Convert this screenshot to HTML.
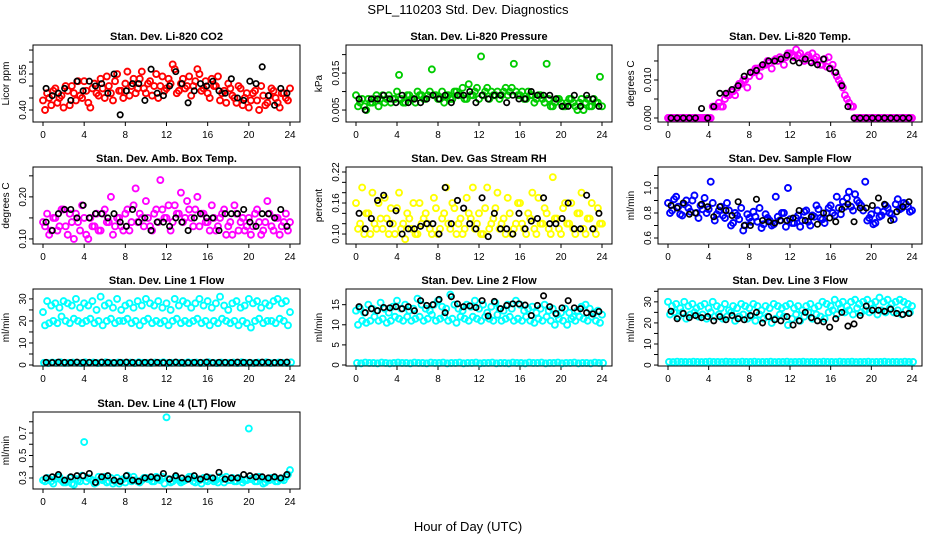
<!DOCTYPE html>
<html><head><meta charset="utf-8"><style>
html,body{margin:0;padding:0;background:#fff;}
svg{display:block;font-family:"Liberation Sans",Arial,sans-serif;}
</style></head><body>
<svg id="chart" width="936" height="540" viewBox="0 0 936 540" xmlns="http://www.w3.org/2000/svg">
<text x="468" y="14" text-anchor="middle" font-size="13">SPL_110203  Std. Dev. Diagnostics</text>
<text x="468" y="531" text-anchor="middle" font-size="13">Hour of Day (UTC)</text>
</svg>
<script>
// ---- data: colored series sampled every 0.4 h (A from 0 h, B from 0.2 h); black series every 0.6 h from 0.3 h
const co2A=[0.44,0.47,0.42,0.49,0.45,0.41,0.48,0.50,0.44,0.46,0.52,0.43,0.49,0.47,0.53,0.45,0.50,0.44,0.55,0.48,0.51,0.46,0.53,0.49,0.56,0.47,0.52,0.50,0.45,0.54,0.49,0.51,0.57,0.48,0.53,0.50,0.46,0.52,0.55,0.49,0.47,0.53,0.50,0.44,0.48,0.51,0.46,0.43,0.49,0.45,0.41,0.47,0.44,0.50,0.42,0.46,0.48,0.43,0.47,0.45,0.49];
const co2B=[0.40,0.45,0.48,0.43,0.46,0.50,0.42,0.47,0.52,0.45,0.48,0.41,0.51,0.46,0.49,0.54,0.47,0.52,0.48,0.45,0.56,0.50,0.47,0.53,0.49,0.51,0.46,0.55,0.50,0.48,0.53,0.59,0.47,0.51,0.49,0.54,0.50,0.57,0.48,0.52,0.45,0.50,0.54,0.47,0.43,0.49,0.45,0.50,0.42,0.47,0.44,0.48,0.40,0.46,0.43,0.49,0.45,0.41,0.47,0.44];
const co2K=[0.49,0.46,0.47,0.49,0.44,0.52,0.48,0.52,0.50,0.51,0.47,0.55,0.38,0.48,0.51,0.51,0.44,0.57,0.47,0.46,0.50,0.56,0.51,0.43,0.48,0.51,0.50,0.52,0.48,0.47,0.53,0.45,0.44,0.52,0.51,0.58,0.46,0.42,0.49,0.47];
const prA=[0.009,0.007,0.006,0.008,0.007,0.009,0.008,0.007,0.009,0.008,0.010,0.008,0.007,0.009,0.008,0.010,0.009,0.008,0.010,0.009,0.008,0.010,0.009,0.008,0.010,0.009,0.011,0.008,0.009,0.010,0.008,0.009,0.011,0.010,0.009,0.008,0.010,0.009,0.011,0.010,0.009,0.008,0.010,0.009,0.008,0.009,0.007,0.008,0.006,0.008,0.007,0.006,0.008,0.007,0.005,0.008,0.007,0.006,0.008,0.007,0.006];
const prB=[0.006,0.008,0.005,0.007,0.008,0.006,0.009,0.008,0.007,0.008,0.0145,0.007,0.009,0.008,0.007,0.009,0.008,0.009,0.016,0.009,0.008,0.007,0.009,0.008,0.010,0.009,0.008,0.012,0.009,0.011,0.0195,0.010,0.008,0.009,0.010,0.009,0.011,0.010,0.0175,0.009,0.010,0.008,0.009,0.007,0.009,0.008,0.0175,0.006,0.007,0.008,0.006,0.007,0.008,0.006,0.007,0.005,0.008,0.006,0.007,0.014];
const prK=[0.008,0.005,0.008,0.008,0.009,0.008,0.007,0.009,0.007,0.008,0.007,0.008,0.009,0.008,0.009,0.007,0.009,0.009,0.010,0.007,0.009,0.008,0.009,0.009,0.007,0.009,0.008,0.008,0.010,0.009,0.009,0.009,0.008,0.006,0.006,0.009,0.006,0.009,0.008,0.006];
const tmA=[0,0,0,0,0,0,0,0,0,0,0,0.003,0.003,0.003,0.005,0.006,0.007,0.008,0.009,0.010,0.011,0.012,0.013,0.0135,0.014,0.0145,0.015,0.015,0.0155,0.016,0.017,0.016,0.0165,0.0155,0.016,0.015,0.0155,0.015,0.014,0.0135,0.013,0.012,0.010,0.008,0.005,0.003,0,0,0,0,0,0,0,0,0,0,0,0,0,0,0];
const tmB=[0,0,0,0,0,0,0,0,0,0,0,0.003,0.004,0.003,0.006,0.007,0.006,0.009,0.010,0.008,0.012,0.013,0.011,0.014,0.015,0.013,0.0155,0.016,0.014,0.017,0.0165,0.018,0.017,0.015,0.0165,0.017,0.016,0.014,0.0155,0.016,0.014,0.011,0.009,0.006,0.004,0.003,0,0,0,0,0,0,0,0,0,0,0,0,0,0];
const tmK=[0,0,0,0,0,0.0025,0,0.003,0.0065,0.0065,0.0075,0.0085,0.011,0.012,0.0125,0.014,0.015,0.015,0.0155,0.0165,0.015,0.0145,0.0155,0.0145,0.014,0.0155,0.013,0.012,0.0085,0.003,0,0,0,0,0,0,0,0,0,0];
const abA=[0.14,0.16,0.12,0.15,0.13,0.17,0.11,0.14,0.16,0.12,0.15,0.10,0.13,0.16,0.12,0.17,0.14,0.11,0.15,0.13,0.16,0.12,0.18,0.14,0.15,0.19,0.13,0.16,0.14,0.17,0.15,0.12,0.18,0.16,0.14,0.19,0.15,0.17,0.13,0.16,0.14,0.18,0.12,0.15,0.17,0.13,0.11,0.16,0.14,0.12,0.15,0.13,0.17,0.11,0.14,0.16,0.12,0.15,0.13,0.16,0.14];
const abB=[0.13,0.11,0.15,0.12,0.17,0.13,0.16,0.10,0.14,0.18,0.11,0.15,0.13,0.12,0.16,0.14,0.20,0.13,0.15,0.12,0.17,0.14,0.22,0.16,0.13,0.15,0.12,0.17,0.24,0.15,0.18,0.14,0.16,0.21,0.15,0.17,0.13,0.20,0.16,0.14,0.12,0.15,0.13,0.16,0.11,0.14,0.18,0.12,0.15,0.13,0.11,0.16,0.14,0.12,0.19,0.13,0.15,0.11,0.14,0.12];
const abK=[0.14,0.12,0.16,0.17,0.17,0.15,0.18,0.15,0.16,0.16,0.15,0.16,0.14,0.13,0.17,0.14,0.15,0.12,0.14,0.14,0.13,0.15,0.14,0.12,0.15,0.16,0.15,0.15,0.12,0.16,0.16,0.16,0.17,0.14,0.13,0.16,0.16,0.15,0.17,0.13];
const rhA=[0.16,0.12,0.10,0.14,0.18,0.11,0.13,0.17,0.10,0.12,0.15,0.11,0.09,0.13,0.16,0.10,0.12,0.14,0.11,0.17,0.10,0.13,0.19,0.11,0.15,0.12,0.10,0.17,0.13,0.11,0.14,0.10,0.19,0.12,0.15,0.11,0.13,0.17,0.10,0.12,0.16,0.11,0.14,0.18,0.10,0.12,0.15,0.11,0.21,0.13,0.10,0.16,0.12,0.11,0.14,0.18,0.10,0.13,0.11,0.15,0.12];
const rhB=[0.11,0.19,0.14,0.10,0.12,0.16,0.11,0.13,0.15,0.10,0.18,0.12,0.14,0.11,0.10,0.16,0.13,0.12,0.10,0.15,0.11,0.14,0.12,0.16,0.10,0.13,0.11,0.14,0.19,0.12,0.10,0.15,0.11,0.13,0.18,0.12,0.10,0.14,0.11,0.16,0.12,0.10,0.13,0.11,0.17,0.12,0.14,0.10,0.13,0.11,0.15,0.12,0.16,0.10,0.14,0.11,0.13,0.16,0.10,0.12];
const rhK=[0.14,0.11,0.13,0.165,0.175,0.12,0.145,0.10,0.11,0.11,0.115,0.12,0.12,0.10,0.19,0.12,0.165,0.15,0.12,0.11,0.17,0.095,0.14,0.11,0.11,0.10,0.14,0.11,0.125,0.13,0.17,0.12,0.12,0.13,0.16,0.11,0.11,0.175,0.11,0.14];
const sfA=[0.88,0.82,0.93,0.79,0.87,0.84,0.90,0.80,0.86,0.92,0.83,0.88,0.79,0.85,0.76,0.82,0.72,0.78,0.84,0.70,0.76,0.81,0.73,0.68,0.79,0.74,0.71,0.77,0.80,0.69,0.75,0.72,0.78,0.74,0.82,0.70,0.77,0.83,0.75,0.80,0.86,0.78,0.84,0.89,0.92,0.85,0.95,0.88,0.82,0.74,0.79,0.72,0.77,0.81,0.84,0.79,0.87,0.83,0.88,0.85,0.82];
const sfB=[0.80,0.91,0.85,0.78,0.90,0.81,0.94,0.76,0.83,0.80,1.05,0.74,0.82,0.78,0.88,0.70,0.80,0.75,0.66,0.79,0.73,0.77,0.84,0.71,0.76,0.70,0.93,0.74,0.80,1.00,0.72,0.76,0.69,0.81,0.73,0.78,0.86,0.76,0.72,0.84,0.80,0.93,0.79,0.85,0.97,0.82,0.90,0.86,1.05,0.76,0.71,0.82,0.78,0.86,0.80,0.75,0.91,0.84,0.87,0.81];
const sfK=[0.86,0.84,0.88,0.79,0.80,0.87,0.85,0.77,0.85,0.82,0.78,0.89,0.70,0.70,0.91,0.74,0.73,0.72,0.74,0.74,0.76,0.82,0.74,0.77,0.71,0.80,0.76,0.73,0.83,0.87,0.73,0.84,0.84,0.86,0.92,0.87,0.74,0.81,0.85,0.89];
const l1A=[24,29,27,28,26,29,28,27,30,26,28,27,29,25,31,27,28,26,30,25,27,28,26,29,27,30,28,27,29,26,28,25,30,27,29,28,26,28,30,27,29,26,28,31,27,25,28,29,26,27,30,28,29,26,28,27,29,30,28,29,24];
const l1B=[18,19,20,19,22,20,19,21,20,19,20,21,19,20,18,20,21,19,20,20,21,19,20,18,20,21,19,20,19,20,18,20,21,19,20,19,20,21,19,20,18,20,19,21,20,19,20,18,20,19,17,20,21,19,20,20,19,21,20,18];
const l1C=[1,0.9,1.1,1,1.2,0.9,1,1.1,1,0.9,1.2,1,1.1,0.9,1,1.2,1,0.9,1.1,1,1,1.1,0.9,1.2,1,1,0.9,1.1,1,1.2,0.9,1,1.1,1,0.9,1.2,1,1.1,0.9,1,1.2,1,0.9,1.1,1,1,1.1,0.9,1.2,1,1,0.9,1.1,1,1.2,0.9,1,1.1,1,0.9,1.2];
const l1K=[1.2,1.1,1.3,1.2,1.1,1.3,1.2,1.2,1.1,1.3,1.2,1.1,1.2,1.3,1.2,1.1,1.2,1.3,1.2,1.1,1.2,1.3,1.2,1.1,1.2,1.2,1.3,1.1,1.2,1.2,1.1,1.3,1.2,1.2,1.1,1.3,1.2,1.1,1.2,1.3];
const l2A=[13.5,14,13,15,14,13.5,15.5,14,13,14.5,16,14,15,13.5,14,16.5,15,14,13.5,15,16,14.5,14,17.5,15,14,13.5,15,14.5,16,14,15,13,14.5,15.5,14,13.5,15,14,16,15,13.5,14,14.5,13,14,15,13.5,14,12.5,13,14,13,12,13.5,14.5,15,14,13,13.5,12.5];
const l2B=[10,11,10.5,11,12,11,11.5,10.5,11,12,11.5,11,12,11,11.5,12,11,11.5,12.5,11,11.5,12,11,11.5,10.5,12,11.5,11,12,11.5,11,12,11.5,11,12.5,11,11.5,12,11,11.5,11,12,11,10.5,11.5,11,12,11,10,11.5,11,10,11.5,11,12,11.5,11,12,11,10.5];
const l2C=[0.5,0.4,0.6,0.5,0.5,0.4,0.6,0.5,0.4,0.5,0.6,0.5,0.5,0.4,0.6,0.5,0.5,0.4,0.6,0.5,0.5,0.6,0.4,0.5,0.5,0.6,0.4,0.5,0.5,0.6,0.4,0.5,0.5,0.6,0.4,0.5,0.5,0.4,0.6,0.5,0.5,0.4,0.6,0.5,0.5,0.6,0.4,0.5,0.5,0.6,0.4,0.5,0.5,0.6,0.4,0.5,0.5,0.4,0.6,0.5,0.5];
const l2K=[14.5,13,14,13.5,14.3,14.2,14.5,14,14.5,13.5,16,14.8,15,16.3,13,17,15.2,14.5,14.7,14.3,16,12.2,15.8,14,14.8,15.2,15.2,14.9,12.3,14.8,17.2,14.5,12.8,14.2,16,14.2,14,13,12.7,13.3];
const l3A=[30,28,29,27,30,28,29,27,28,29,27,30,28,27,29,26,28,27,29,28,27,29,28,26,28,27,29,28,27,28,29,27,28,26,28,29,27,28,30,29,28,31,29,30,28,30,31,29,30,31,29,30,32,30,31,29,30,31,30,29,28];
const l3B=[24,25,23,25,22,24,25,23,24,22,25,23,24,22,23,25,21,23,24,22,23,21,24,22,23,20,22,24,23,19,22,24,21,23,25,22,24,23,22,25,26,24,27,25,26,24,27,25,26,25,27,24,26,25,27,25,26,24,26,25];
const l3C=[1.5,1.4,1.6,1.5,1.5,1.4,1.6,1.5,1.4,1.5,1.6,1.5,1.5,1.4,1.6,1.5,1.5,1.4,1.6,1.5,1.5,1.6,1.4,1.5,1.5,1.6,1.4,1.5,1.5,1.6,1.4,1.5,1.5,1.6,1.4,1.5,1.5,1.4,1.6,1.5,1.5,1.4,1.6,1.5,1.5,1.6,1.4,1.5,1.5,1.6,1.4,1.5,1.5,1.6,1.4,1.5,1.5,1.4,1.6,1.5,1.5];
const l3K=[25.5,22,24.5,22.5,23.5,22.5,23,21,23,21.5,23.5,22,21.5,23.5,25,20,23,21.5,21,23,19,21,25,22.5,21,20.5,18,22,25,18.5,19.5,23.5,28,26,26,25.5,26.5,24.5,24,24.5];
const l4A=[0.28,0.30,0.27,0.29,0.31,0.26,0.28,0.25,0.29,0.27,0.62,0.30,0.28,0.26,0.29,0.31,0.27,0.25,0.30,0.28,0.26,0.29,0.31,0.27,0.28,0.30,0.29,0.27,0.29,0.31,0.84,0.26,0.30,0.28,0.27,0.29,0.31,0.26,0.28,0.30,0.27,0.29,0.28,0.31,0.26,0.28,0.30,0.27,0.29,0.28,0.74,0.30,0.27,0.29,0.26,0.28,0.30,0.27,0.29,0.31,0.37];
const l4B=[0.27,0.29,0.25,0.31,0.28,0.26,0.30,0.24,0.28,0.32,0.27,0.29,0.25,0.31,0.28,0.26,0.30,0.27,0.25,0.29,0.32,0.27,0.28,0.26,0.30,0.29,0.27,0.31,0.28,0.25,0.29,0.27,0.30,0.26,0.28,0.31,0.27,0.29,0.25,0.28,0.30,0.27,0.26,0.29,0.31,0.28,0.27,0.30,0.26,0.28,0.29,0.27,0.31,0.25,0.28,0.30,0.27,0.29,0.28,0.33];
const l4K=[0.30,0.31,0.33,0.28,0.31,0.32,0.32,0.34,0.26,0.31,0.32,0.28,0.27,0.32,0.28,0.27,0.30,0.31,0.30,0.34,0.29,0.32,0.30,0.29,0.32,0.29,0.31,0.30,0.35,0.29,0.30,0.30,0.33,0.32,0.31,0.31,0.30,0.31,0.30,0.33];
const xTicks=[0,4,8,12,16,20,24];
const STEP_COLOR=0.4, STEP_BLACK=0.6;

const panels=[
 {name:'co2',title:'Stan. Dev. Li-820 CO2',yl:'Licor ppm',c:0,r:0,dom:[0.35,0.671],ticks:[0.40,0.45,0.50,0.55,0.60,0.65],labs:[[0.40,'0.40'],[0.55,'0.55']],col:'#ff0000',s:[co2A,co2B],k:co2K},
 {name:'pressure',title:'Stan. Dev. Li-820 Pressure',yl:'kPa',c:1,r:0,dom:[0.00176,0.0226],ticks:[0.005,0.010,0.015,0.020],labs:[[0.005,'0.005'],[0.015,'0.015']],col:'#00cc00',s:[prA,prB],k:prK},
 {name:'li820-temp',title:'Stan. Dev. Li-820 Temp.',yl:'degrees C',c:2,r:0,dom:[-0.00105,0.0192],ticks:[0,0.005,0.010,0.015],labs:[[0,'0.000'],[0.010,'0.010']],col:'#ff00ff',s:[tmA,tmB],k:tmK},
 {name:'amb-box-temp',title:'Stan. Dev. Amb. Box Temp.',yl:'degrees C',c:0,r:1,dom:[0.088,0.271],ticks:[0.10,0.15,0.20,0.25],labs:[[0.10,'0.10'],[0.20,'0.20']],col:'#ff00ff',s:[abA,abB],k:abK},
 {name:'gas-rh',title:'Stan. Dev. Gas Stream RH',yl:'percent',c:1,r:1,dom:[0.0807,0.2297],ticks:[0.10,0.12,0.14,0.16,0.18,0.20,0.22],labs:[[0.10,'0.10'],[0.16,'0.16'],[0.22,'0.22']],col:'#ffff00',s:[rhA,rhB],k:rhK},
 {name:'sample-flow',title:'Stan. Dev. Sample Flow',yl:'ml/min',c:2,r:1,dom:[0.552,1.168],ticks:[0.6,0.7,0.8,0.9,1.0,1.1],labs:[[0.6,'0.6'],[0.8,'0.8'],[1.0,'1.0']],col:'#0000ff',s:[sfA,sfB],k:sfK},
 {name:'line1-flow',title:'Stan. Dev. Line 1 Flow',yl:'ml/min',c:0,r:2,dom:[-0.45,34.5],ticks:[0,5,10,15,20,25,30],labs:[[0,'0'],[10,'10'],[20,'20'],[30,'30']],col:'#00ffff',s:[l1A,l1B,l1C],k:l1K},
 {name:'line2-flow',title:'Stan. Dev. Line 2 Flow',yl:'ml/min',c:1,r:2,dom:[-0.25,18.9],ticks:[0,5,10,15],labs:[[0,'0'],[5,'5'],[10,'10'],[15,'15']],col:'#00ffff',s:[l2A,l2B,l2C],k:l2K},
 {name:'line3-flow',title:'Stan. Dev. Line 3 Flow',yl:'ml/min',c:2,r:2,dom:[-0.45,36.1],ticks:[0,5,10,15,20,25,30,35],labs:[[0,'0'],[10,'10'],[20,'20'],[30,'30']],col:'#00ffff',s:[l3A,l3B,l3C],k:l3K},
 {name:'line4-flow',title:'Stan. Dev. Line 4 (LT) Flow',yl:'ml/min',c:0,r:3,dom:[0.202,0.887],ticks:[0.3,0.4,0.5,0.6,0.7,0.8],labs:[[0.3,'0.3'],[0.5,'0.5'],[0.7,'0.7']],col:'#00ffff',s:[l4A,l4B],k:l4K}
];
const boxL=[33,346,658], boxR=[300,612,922], boxT=[45,167,289,412], BH=77;
const svg=document.getElementById('chart'), NS='http://www.w3.org/2000/svg';
function mk(tag,attrs,parent){const e=document.createElementNS(NS,tag);for(const a in attrs)e.setAttribute(a,attrs[a]);(parent||svg).appendChild(e);return e;}
panels.forEach(p=>{
  const L=boxL[p.c],R=boxR[p.c],T=boxT[p.r],B=T+BH;
  const g=mk('g',{});
  
  
  const xs=h=>L+10+(R-L-20)*h/24;
  const ys=v=>B-(v-p.dom[0])/(p.dom[1]-p.dom[0])*BH;
  const t=mk('text',{x:(L+R)/2,y:T-5,'text-anchor':'middle','font-size':'11','font-weight':'bold'},g);
  t.textContent=p.title;
  
  
  const yt=mk('text',{transform:`translate(${L-24},${(T+B)/2}) rotate(-90)`,'text-anchor':'middle','font-size':'10'},g);
  yt.textContent=p.yl;
  
  
  xTicks.forEach(h=>{
    mk('line',{x1:xs(h),x2:xs(h),y1:B,y2:B+4,stroke:'#000','stroke-width':'1'},g);
    const lb=mk('text',{x:xs(h),y:B+16,'text-anchor':'middle','font-size':'10'},g);
    lb.textContent=h;
    
    
  });
  p.ticks.forEach(v=>{mk('line',{x1:L-4,x2:L,y1:ys(v),y2:ys(v),stroke:'#000','stroke-width':'1'},g);});
  p.labs.forEach(([v,s])=>{
    const lb=mk('text',{transform:`translate(${L-7},${ys(v)}) rotate(-90)`,'text-anchor':'middle','font-size':'10'},g);
    lb.textContent=s;
    
    
  });
  p.s.forEach((arr,si)=>{
    const off=[0,0.2,0.1][si];
    arr.forEach((v,i)=>{
      const h=off+i*STEP_COLOR; if(h>24.2)return;
      const c=mk('circle',{cx:xs(h),cy:ys(v),r:'3',fill:'none',stroke:p.col,'stroke-width':'1.9'},g);
      
      
    });
  });
  p.k.forEach((v,i)=>{
    const h=0.3+i*STEP_BLACK;
    const c=mk('circle',{cx:xs(h),cy:ys(v),r:'2.7',fill:'none',stroke:'#000','stroke-width':'1.7'},g);
    
    
  });
  const bx=mk('rect',{x:L,y:T,width:R-L,height:BH,fill:'none',stroke:'#000','stroke-width':'1'},g);
  
  
});
</script>
</body></html>
